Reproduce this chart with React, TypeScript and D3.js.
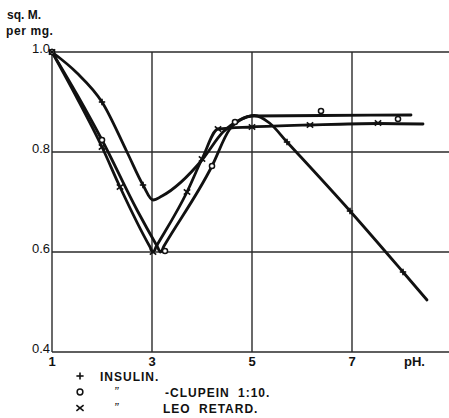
import React from "react";
import * as d3 from "d3";

const W = 449;
const H = 418;

const xTicks = [1, 3, 5, 7];
const yTicks = [0.4, 0.6, 0.8, 1.0];
const xGrid = [1, 3, 5, 7];
const yGrid = [0.6, 0.8, 1.0];

// INSULIN (+)
const insulinCurveX = [1, 1.5, 2, 2.5, 2.82, 3.02, 3.2, 4.0, 4.42, 4.75, 5.05, 5.35, 5.7, 6.96, 8.02, 8.5];
const insulinCurveY = [1.0, 0.958, 0.9, 0.8, 0.734, 0.704, 0.712, 0.784, 0.84, 0.864, 0.873, 0.858, 0.82, 0.682, 0.56, 0.504];
const insulinMarkX = [1, 2, 2.82, 5.7, 6.96, 8.02];
const insulinMarkY = [1.0, 0.9, 0.734, 0.82, 0.682, 0.56];

// CLUPEIN 1:10 (o)
const clupeinCurveX = [1, 1.5, 2, 2.7, 3.1, 3.17, 3.24, 4.2, 4.55, 4.8, 5.0, 6.4, 8.18];
const clupeinCurveY = [1.0, 0.915, 0.824, 0.684, 0.612, 0.6, 0.612, 0.772, 0.845, 0.866, 0.872, 0.873, 0.874];
const clupeinMarkX = [1, 2, 3.26, 4.2, 4.66, 6.38, 7.92];
const clupeinMarkY = [1.0, 0.824, 0.602, 0.772, 0.86, 0.882, 0.866];

// LEO RETARD (x)
const leoCurveX = [1, 1.5, 2, 2.36, 2.95, 3.02, 3.09, 3.7, 4.0, 4.32, 5.0, 6.16, 7.52, 8.42];
const leoCurveY = [1.0, 0.908, 0.81, 0.73, 0.612, 0.6, 0.612, 0.72, 0.786, 0.846, 0.85, 0.854, 0.857, 0.856];
const leoMarkX = [1, 2, 2.36, 3.02, 3.7, 4.0, 4.32, 5.0, 6.16, 7.52];
const leoMarkY = [1.0, 0.81, 0.73, 0.6, 0.72, 0.786, 0.846, 0.85, 0.854, 0.858];

const legendSymbols = ["plus", "circle", "cross"];
const legendDitto = ["", "\u201D", "\u201D"];
const legendTexts = ["INSULIN.", "-CLUPEIN 1:10.", "LEO RETARD."];

const x = d3.scaleLinear().domain([1, 9]).range([52, 452]);
const y = d3.scaleLinear().domain([0.4, 1.0]).range([352, 52]);

const zip = (a: number[], b: number[]) => a.map((v, i) => [v, b[i]] as [number, number]);

const line = d3
  .line<[number, number]>()
  .x((d) => x(d[0]))
  .y((d) => y(d[1]))
  .curve(d3.curveMonotoneX);

const ink = "#111";
const font = "'Liberation Sans', Arial, sans-serif";

function Marker({ kind, cx, cy, s = 3.2 }: { kind: string; cx: number; cy: number; s?: number }) {
  if (kind === "plus")
    return (
      <g stroke={ink} strokeWidth={1.6}>
        <line x1={cx - s} x2={cx + s} y1={cy} y2={cy} />
        <line x1={cx} x2={cx} y1={cy - s} y2={cy + s} />
      </g>
    );
  if (kind === "circle")
    return <circle cx={cx} cy={cy} r={s * 0.8} fill="#fff" stroke={ink} strokeWidth={1.5} />;
  return (
    <g stroke={ink} strokeWidth={1.6}>
      <line x1={cx - s} x2={cx + s} y1={cy - s * 0.8} y2={cy + s * 0.8} />
      <line x1={cx - s} x2={cx + s} y1={cy + s * 0.8} y2={cy - s * 0.8} />
    </g>
  );
}

export default function App() {
  const series = [
    { curve: zip(insulinCurveX, insulinCurveY), marks: zip(insulinMarkX, insulinMarkY), kind: "plus" },
    { curve: zip(clupeinCurveX, clupeinCurveY), marks: zip(clupeinMarkX, clupeinMarkY), kind: "circle" },
    { curve: zip(leoCurveX, leoCurveY), marks: zip(leoMarkX, leoMarkY), kind: "cross" },
  ];
  return (
    <svg width={W} height={H} style={{ position: "absolute", left: 0, top: 0, background: "#fff" }}>
      <rect width={W} height={H} fill="#fff" />
      {/* grid */}
      <g stroke="#2a2a2a" strokeWidth={1.4}>
        {yGrid.map((v) => (
          <line key={"h" + v} x1={x(1)} x2={W} y1={y(v)} y2={y(v)} />
        ))}
        <line x1={x(1)} x2={W} y1={y(0.4)} y2={y(0.4)} />
        {xGrid.map((v) => (
          <line key={"v" + v} x1={x(v)} x2={x(v)} y1={y(1.0)} y2={y(0.4)} />
        ))}
      </g>
      {/* y tick labels */}
      <g fontFamily={font} fontSize={13} fill={ink} textAnchor="end">
        {yTicks.map((v) => (
          <text key={v} x={x(1) - 2} y={y(v) + 1}>
            {v.toFixed(1)}
          </text>
        ))}
      </g>
      {/* x tick labels */}
      <g fontFamily={font} fontSize={13} fontWeight="bold" fill={ink} textAnchor="middle">
        {xTicks.map((v) => (
          <text key={v} x={x(v)} y={y(0.4) + 14}>
            {v}
          </text>
        ))}
        <text x={x(8.25)} y={y(0.4) + 14}>
          pH.
        </text>
      </g>
      {/* axis title */}
      <g fontFamily={font} fontSize={12} fontWeight="bold" fill={ink}>
        <text x={7} y={19}>sq. M.</text>
        <text x={6} y={35} letterSpacing={0.6}>per mg.</text>
      </g>
      {/* curves */}
      {series.map((s, i) => (
        <path key={i} d={line(s.curve) || ""} fill="none" stroke={ink} strokeWidth={2.8} strokeLinecap="round" />
      ))}
      {series.map((s, i) => (
        <g key={"m" + i}>
          {s.marks.map((d, j) => (
            <Marker key={j} kind={s.kind} cx={x(d[0])} cy={y(d[1])} />
          ))}
        </g>
      ))}
      {/* legend */}
      {legendTexts.map((t, i) => (
        <g key={t}>
          <Marker kind={legendSymbols[i]} cx={80} cy={376 + i * 16} s={3.6} />
          <text x={114} y={396 + (i - 1) * 16} fontFamily={font} fontSize={13} fontStyle="italic" fill={ink}>
            {legendDitto[i]}
          </text>
          <text
            x={i === 0 ? 100 : i === 1 ? 165 : 163}
            y={381 + i * 16}
            fontFamily={font}
            fontSize={12}
            fontWeight="bold"
            fill={ink}
            letterSpacing={1}
            wordSpacing={4}
          >
            {t}
          </text>
        </g>
      ))}
    </svg>
  );
}
